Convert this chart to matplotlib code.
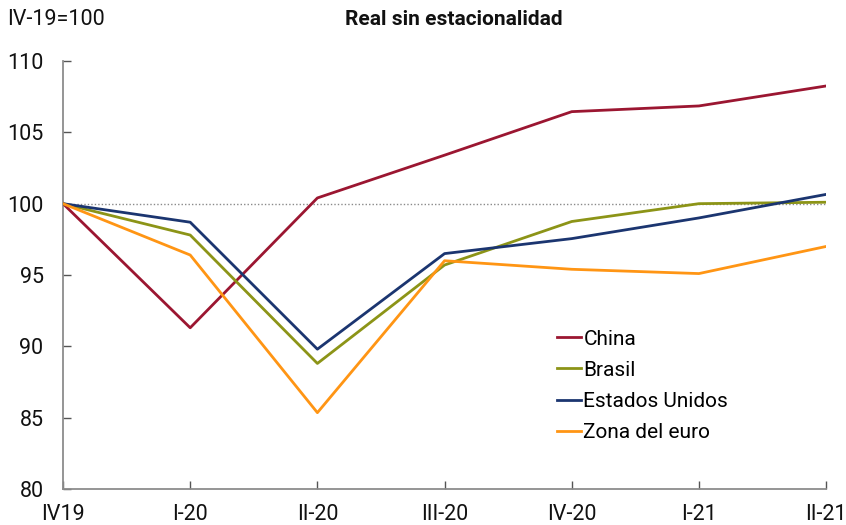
import matplotlib
matplotlib.use("Agg")
import matplotlib.pyplot as plt

plt.rcParams['font.family'] = ['Roboto', 'DejaVu Sans']

quarters = ["IV19", "I-20", "II-20", "III-20", "IV-20", "I-21", "II-21"]
china = [100, 91.3, 100.4, 103.4, 106.45, 106.85, 108.25]
brasil = [100, 97.8, 88.8, 95.7, 98.75, 100.0, 100.1]
eeuu = [100, 98.7, 89.8, 96.5, 97.55, 99.0, 100.65]
euro = [100, 96.4, 85.35, 96.0, 95.4, 95.1, 97.0]

series = [
    ("China", china, "#9B1631"),
    ("Brasil", brasil, "#8C9417"),
    ("Estados Unidos", eeuu, "#1B3570"),
    ("Zona del euro", euro, "#FF9514"),
]

fig = plt.figure(figsize=(8.46, 5.25), dpi=100)
ax = fig.add_axes([0.0745, 0.0686, 0.9020, 0.8152])

x = list(range(len(quarters)))
ax.axhline(100, color="#8a8a8a", lw=1.0, ls=(0, (1, 1.5)), zorder=1)
for name, vals, col in series:
    ax.plot(x, vals, color=col, lw=2.0, label=name, zorder=3)

ax.set_xlim(0, len(quarters) - 1)
ax.set_ylim(80, 110)
ax.set_yticks([80, 85, 90, 95, 100, 105, 110])
ax.set_xticks(x)
ax.set_xticklabels(quarters)

for s in ["top", "right"]:
    ax.spines[s].set_visible(False)
for s in ["left", "bottom"]:
    ax.spines[s].set_color("#8c8c8c")
    ax.spines[s].set_linewidth(1.3)

ax.tick_params(axis="both", direction="in", length=6, width=1, color="#555555",
               labelsize=15.5, labelcolor="#111111")
ax.tick_params(axis="y", pad=14)
ax.tick_params(axis="x", pad=11)

fig.text(0.009, 0.962, "IV-19=100", fontsize=15.5, color="#111111", va="center", ha="left")
fig.text(0.537, 0.962, "Real sin estacionalidad", fontsize=15, fontweight="bold",
         color="#111111", va="center", ha="center")

leg = ax.legend(loc="upper left", bbox_to_anchor=(0.649, 0.388), bbox_transform=fig.transFigure,
                frameon=False, fontsize=15, handlelength=1.15, handletextpad=0.1,
                labelspacing=0.58, borderaxespad=0)

fig.savefig("out.png", dpi=100)
